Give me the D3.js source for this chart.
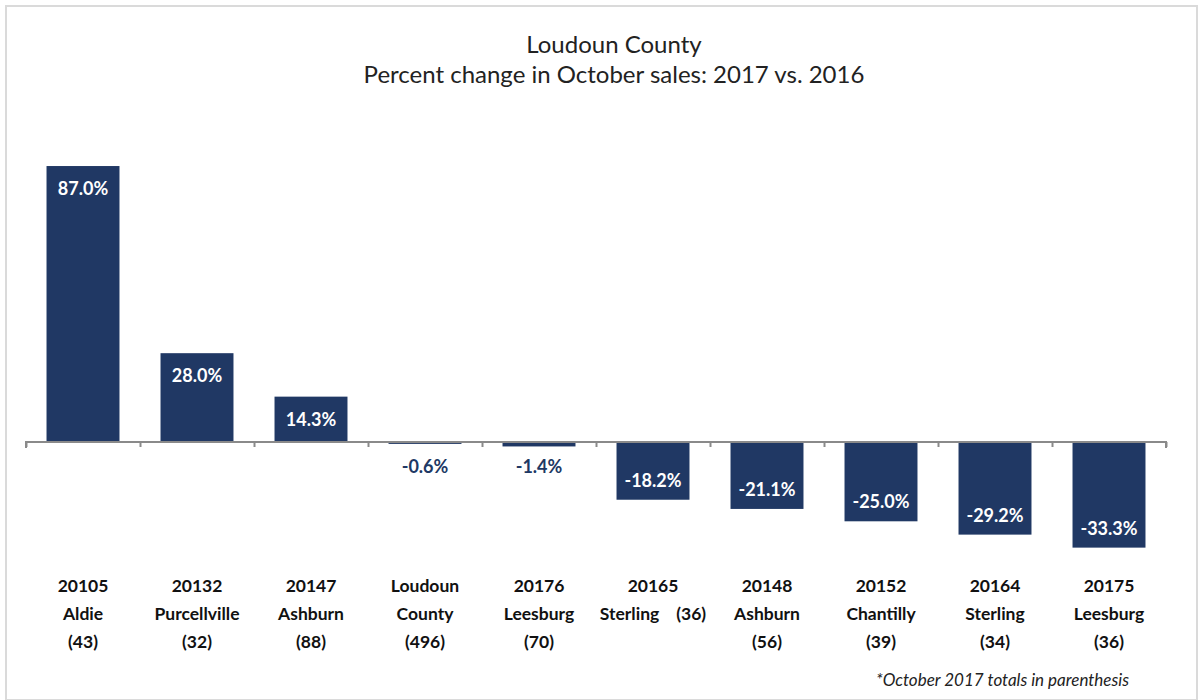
<!DOCTYPE html>
<html lang="en">
<head>
  <meta charset="UTF-8">
  <title>Loudoun County: Percent change in October sales</title>
  <script src="https://d3js.org/d3.v7.min.js"></script>
  <style>
    body {
      margin: 0;
      background: #fff;
      font-family: Lato, "Noto Sans", sans-serif;
    }
    svg { display: block; }
  </style>
</head>
<body>
  <div id="chart"></div>

  <script>
    const zips = ["20105", "20132", "20147", "Loudoun", "20176", "20165", "20148", "20152", "20164", "20175"];
    const places = ["Aldie", "Purcellville", "Ashburn", "County", "Leesburg", "Sterling", "Ashburn", "Chantilly", "Sterling", "Leesburg"];
    const totals = ["(43)", "(32)", "(88)", "(496)", "(70)", "(36)", "(56)", "(39)", "(34)", "(36)"];
    const changes = [87.0, 28.0, 14.3, -0.6, -1.4, -18.2, -21.1, -25.0, -29.2, -33.3];

    const width = 1199, height = 700;
    const navy = "#203864";

    const svg = d3.select("#chart")
      .append("svg")
      .attr("width", width)
      .attr("height", height);

    // frame
    svg.append("rect")
      .attr("x", 6).attr("y", 6)
      .attr("width", 1191).attr("height", 694)
      .attr("fill", "none")
      .attr("stroke", "#dadada")
      .attr("stroke-width", 2);

    // title
    svg.append("text")
      .attr("x", 614).attr("y", 53)
      .attr("text-anchor", "middle")
      .style("font-size", "24px")
      .attr("fill", "#222")
      .text("Loudoun County");
    svg.append("text")
      .attr("x", 614).attr("y", 83)
      .attr("text-anchor", "middle")
      .style("font-size", "24px")
      .attr("fill", "#222")
      .text("Percent change in October sales: 2017 vs. 2016");

    const x = d3.scaleBand()
      .domain(d3.range(zips.length))
      .range([26, 1166])
      .paddingInner(0.36)
      .paddingOuter(0.18);

    const y = d3.scaleLinear()
      .domain([-40, 100])
      .range([442 + 40 * 3.172, 442 - 100 * 3.172]);

    // bars
    svg.selectAll("rect.bar")
      .data(changes)
      .enter()
      .append("rect")
      .attr("class", "bar")
      .attr("x", (d, i) => x(i))
      .attr("width", x.bandwidth())
      .attr("y", d => y(Math.max(0, d)))
      .attr("height", d => Math.abs(y(d) - y(0)))
      .attr("fill", navy);

    // axis line at zero with ticks between categories
    const axis = d3.axisBottom(d3.scaleLinear().domain([0, zips.length]).range([26, 1166]))
      .ticks(zips.length)
      .tickSize(5)
      .tickFormat("");
    const ax = svg.append("g")
      .attr("transform", `translate(0,${y(0)})`)
      .call(axis);
    ax.select(".domain").attr("stroke", "#8a8a8a").attr("stroke-width", 2)
      .attr("d", `M26,6V0H1166V6`);
    ax.selectAll(".tick line").attr("stroke", "#8a8a8a").attr("stroke-width", 2);

    // value labels
    const small = d => d < 0 && y(d) - y(0) < 30;
    svg.selectAll("text.val")
      .data(changes)
      .enter()
      .append("text")
      .attr("class", "val")
      .attr("x", (d, i) => x(i) + x.bandwidth() / 2)
      .attr("y", d => {
        if (d >= 0) return y(d) + 29;
        if (small(d)) return y(0) + 31;
        return y(d) - 13;
      })
      .attr("text-anchor", "middle")
      .style("font-size", "18px")
      .style("font-weight", "bold")
      .attr("fill", d => small(d) ? navy : "#fff")
      .text(d => d.toFixed(1) + "%");

    // category labels
    const cats = svg.selectAll("g.cat")
      .data(zips)
      .enter()
      .append("g")
      .attr("class", "cat")
      .attr("transform", (d, i) => `translate(${x(i) + x.bandwidth() / 2},0)`);

    cats.each(function (d, i) {
      const g = d3.select(this);
      const lines = i === 5
        ? [zips[i], places[i] + "\u00a0\u00a0\u00a0\u00a0" + totals[i]]
        : [zips[i], places[i], totals[i]];
      lines.forEach((t, k) => {
        g.append("text")
          .attr("y", 592 + k * 28)
          .attr("text-anchor", "middle")
          .style("font-size", "17.5px")
          .style("font-weight", "bold")
          .attr("fill", "#111")
          .text(t);
      });
    });

    // footnote
    svg.append("text")
      .attr("x", 1129).attr("y", 686)
      .attr("text-anchor", "end")
      .style("font-size", "17px")
      .style("font-style", "italic")
      .attr("fill", "#222")
      .text("*October 2017 totals in parenthesis");
  </script>
</body>
</html>
